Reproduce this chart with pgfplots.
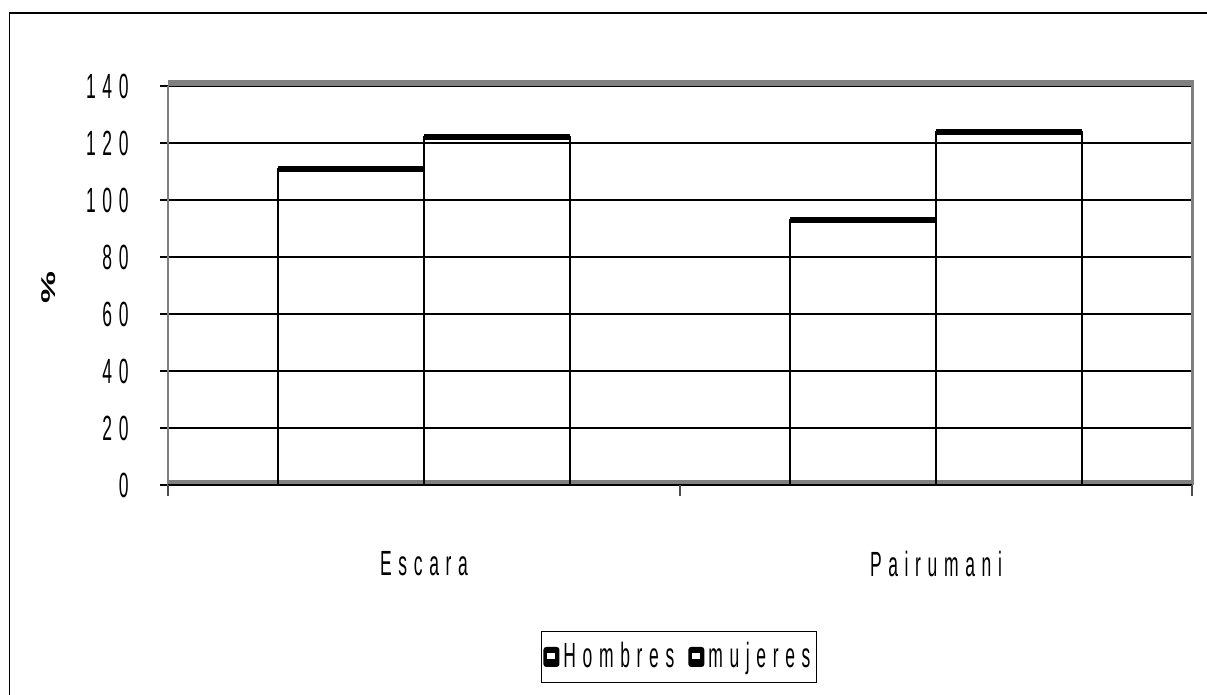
\documentclass[border=0pt]{standalone}
\usepackage{fontspec}
\setmainfont{Liberation Sans}[FakeStretch=0.5, LetterSpace=19]
\newfontfamily\plainbold{Liberation Sans Bold}
\usepackage{pgfplots}
\pgfplotsset{compat=1.18}
\usepackage{pgfplotstable}
\pgfplotstableread{
x h m
0 111 122
1 93 124
}\datatable
\definecolor{framegray}{RGB}{128,128,128}
\begin{document}
\fontsize{17.5}{21}\selectfont
\begin{tikzpicture}
\draw[black, line width=0.8pt] (4.65pt,0) -- (4.65pt,340.85pt) -- (603.5pt,340.85pt);
\begin{axis}[
  at={(84pt,105pt)}, anchor=south west,
  scale only axis, width=512pt, height=199.5pt,
  xmin=-0.5, xmax=1.5, ymin=0, ymax=140,
  ytick={0,20,...,140},
  ytick pos=left,
  ymajorgrids, grid style={black, line width=0.6pt},
  xtick={0,1}, xticklabels={Escara,Pairumani},
  axis line style={draw=none},
  x tick style={draw=none},
  y tick style={black, line width=0.6pt},
  tick align=outside, major tick length=4pt,
  /pgf/number format/assume math mode=true,
  yticklabel style={anchor=east, inner sep=0pt, xshift=-15.5pt},
  xticklabel style={anchor=center, inner sep=0pt, yshift=-35.5pt},
  ylabel={\scalebox{1.8}[1]{\plainbold\fontsize{10}{12}\selectfont\%}},
  every axis y label/.style={at={(axis description cs:-0.117,0.496)}, rotate=90, anchor=center},
  legend columns=2,
  legend style={at={(axis description cs:0.499,-0.431)}, anchor=center, draw=black, line width=0.6pt,
    inner xsep=1pt, inner ysep=3pt,
    /tikz/every even column/.append style={column sep=5pt}},
  legend cell align=left,
  clip=false,
]
\draw[framegray, line width=1pt] (rel axis cs:0,0) -- (rel axis cs:0,1);
\draw[framegray, line width=3pt] ([yshift=1.5pt]rel axis cs:0,1) -- ([yshift=1.5pt]rel axis cs:1,1);
\draw[framegray, line width=1.5pt] (rel axis cs:1,0) -- ([yshift=3pt]rel axis cs:1,1);
\draw[framegray, line width=2.5pt] ([yshift=1.25pt]rel axis cs:0,0) -- ([yshift=1.25pt]rel axis cs:1,0);
\draw[black, line width=0.6pt] (rel axis cs:0,0) -- (rel axis cs:1,0);
\draw[black!70, line width=0.6pt] (axis cs:-0.5,0) -- ([yshift=-5.5pt]axis cs:-0.5,0);
\draw[black!70, line width=0.6pt] (axis cs:0.5,0) -- ([yshift=-5.5pt]axis cs:0.5,0);
\draw[black!70, line width=0.6pt] (axis cs:1.5,0) -- ([yshift=-5.5pt]axis cs:1.5,0);
\addplot[ybar, bar width=0.286, bar shift=-0.143, draw=black, fill=none, line width=1pt,
  legend image code/.code={\fill[black, rounded corners=1pt] (0pt,-4.5pt) rectangle (7pt,4.5pt);
    \fill[white] (2pt,-0.5pt) rectangle (5pt,1.5pt);}]
  table[x=x, y=h]{\datatable};
\addlegendentry{Hombres}
\addplot[ybar, bar width=0.286, bar shift=0.143, draw=black, fill=none, line width=1pt,
  legend image code/.code={\fill[black, rounded corners=1pt] (0pt,-4.5pt) rectangle (7pt,4.5pt);
    \fill[white] (2pt,-0.5pt) rectangle (5pt,1.5pt);}]
  table[x=x, y=m]{\datatable};
\addlegendentry{mujeres}
\addplot[only marks, mark=-, mark size=36.6pt, mark options={line width=3pt, black}, forget plot]
  table[x expr=\thisrow{x}-0.143, y=h]{\datatable};
\addplot[only marks, mark=-, mark size=36.6pt, mark options={line width=3pt, black}, forget plot]
  table[x expr=\thisrow{x}+0.143, y=m]{\datatable};
\end{axis}
\pgfresetboundingbox
\path[use as bounding box] (0,0) rectangle (603.5pt,347.5pt);
\end{tikzpicture}
\end{document}
